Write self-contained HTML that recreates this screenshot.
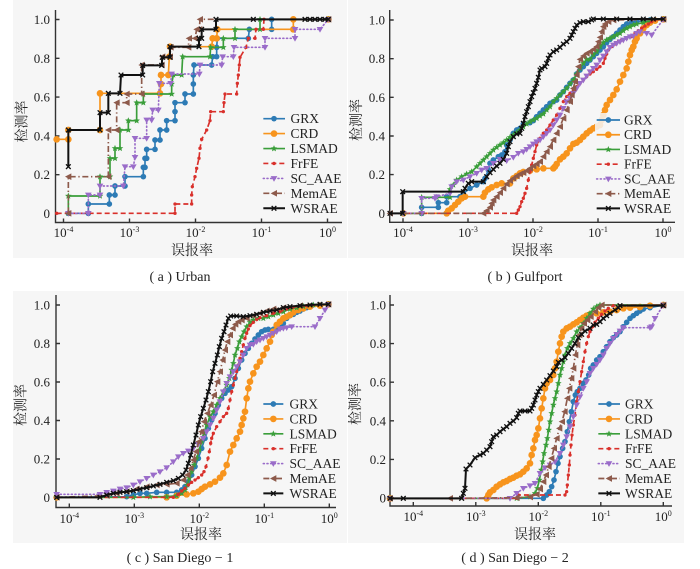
<!DOCTYPE html>
<html><head><meta charset="utf-8">
<style>
html,body{margin:0;padding:0;background:#fff;}
svg{display:block;}
text{font-family:"Liberation Serif","Noto Serif CJK SC",serif;fill:#222;}
.tk{font-size:13px;}
.lgt{font-size:13.5px;}
.cj{font-size:14px;}
.cap{font-size:14px;}
.c polyline,.lg polyline{fill:none;stroke-width:5;stroke-linejoin:round;}
.grx{stroke:#2d7bb5;}
.crd{stroke:#f7941d;}
.lsm{stroke:#3a9e3a;}
.frf{stroke:#d9302b;stroke-dasharray:15,9;}
.sca{stroke:#9a6cc9;stroke-dasharray:3,8;stroke-linecap:round;}
.mem{stroke:#8d5a4b;stroke-dasharray:18,8,4,8;}
.wsr{stroke:#111;}
.c polyline.wsr,.lg polyline.wsr{stroke-width:6;}
.c .grx{marker:url(#mB);}
.c .crd{marker:url(#mO);}
.c .lsm{marker:url(#mG);}
.c .frf{marker:url(#mR);}
.c .sca{marker:url(#mP);}
.c .mem{marker:url(#mM);}
.c .wsr{marker:url(#mK);}
.lg .grx{marker-mid:url(#mB);}
.lg .crd{marker-mid:url(#mO);}
.lg .lsm{marker-mid:url(#mG);}
.lg .frf{marker-mid:url(#mR);}
.lg .sca{marker-mid:url(#mP);}
.lg .mem{marker-mid:url(#mM);}
.lg .wsr{marker-mid:url(#mK);}
.ax{fill:none;stroke:#333;stroke-width:1.4;}
</style></head>
<body>
<svg width="700" height="569" viewBox="0 0 700 569" xmlns="http://www.w3.org/2000/svg">
<defs>
<marker id="mB" markerUnits="userSpaceOnUse" markerWidth="30" markerHeight="30" refX="15" refY="15" overflow="visible"><circle cx="15" cy="15" r="8.5" fill="#2d7bb5"/></marker>
<marker id="mO" markerUnits="userSpaceOnUse" markerWidth="30" markerHeight="30" refX="15" refY="15" overflow="visible"><circle cx="15" cy="15" r="10" fill="#f7941d"/></marker>
<marker id="mG" markerUnits="userSpaceOnUse" markerWidth="30" markerHeight="30" refX="15" refY="15" overflow="visible"><polygon points="15,4.6 17.7,11.3 24.9,11.8 19.4,16.4 21.1,23.4 15,19.6 8.9,23.4 10.6,16.4 5.1,11.8 12.3,11.3" fill="#3a9e3a"/></marker>
<marker id="mR" markerUnits="userSpaceOnUse" markerWidth="30" markerHeight="30" refX="15" refY="15" overflow="visible"><circle cx="15" cy="15" r="5" fill="#d9302b"/></marker>
<marker id="mP" markerUnits="userSpaceOnUse" markerWidth="30" markerHeight="30" refX="15" refY="15" overflow="visible"><polygon points="5,8 25,8 15,25" fill="#9a6cc9"/></marker>
<marker id="mM" markerUnits="userSpaceOnUse" markerWidth="30" markerHeight="30" refX="15" refY="15" overflow="visible"><polygon points="5,15 24,5 24,25" fill="#8d5a4b"/></marker>
<marker id="mK" markerUnits="userSpaceOnUse" markerWidth="30" markerHeight="30" refX="15" refY="15" overflow="visible"><path d="M8,8L22,22M22,8L8,22" stroke="#111" stroke-width="4" fill="none"/></marker>
</defs>
<rect width="700" height="569" fill="#fff"/>
<rect x="13" y="0" width="334" height="258" fill="#f6f6f6"/>
<rect x="348" y="0" width="336" height="258" fill="#f6f6f6"/>
<rect x="13" y="291" width="334" height="252" fill="#f6f6f6"/>
<rect x="348" y="291" width="336" height="252" fill="#f6f6f6"/>

<!-- ================= PANEL A ================= -->
<path class="ax" d="M55.5,10V222.5H342"/>
<path class="ax" d="M63.5,222.5v-4M129.5,222.5v-4M195.5,222.5v-4M261.5,222.5v-4M327.5,222.5v-4M55.5,19.5h4M55.5,58.3h4M55.5,97.1h4M55.5,135.9h4M55.5,174.7h4M55.5,213.5h4"/>
<g class="tk" text-anchor="end">
<text x="50" y="24">1.0</text><text x="50" y="62.8">0.8</text><text x="50" y="101.6">0.6</text><text x="50" y="140.4">0.4</text><text x="50" y="179.2">0.2</text><text x="50" y="218">0</text>
</g>
<g class="tk" text-anchor="middle">
<text x="63.5" y="237">10<tspan font-size="8" dy="-5">-4</tspan></text>
<text x="129.5" y="237">10<tspan font-size="8" dy="-5">-3</tspan></text>
<text x="195.5" y="237">10<tspan font-size="8" dy="-5">-2</tspan></text>
<text x="261.5" y="237">10<tspan font-size="8" dy="-5">-1</tspan></text>
<text x="327.5" y="237">10<tspan font-size="8" dy="-5">0</tspan></text>
</g>
<text class="cj" transform="translate(21.5,121.5) rotate(-90)" text-anchor="middle" y="5">检测率</text>
<text class="cj" x="192" y="255" text-anchor="middle">误报率</text>
<text class="cap" x="180" y="281" text-anchor="middle">( a ) Urban</text>

<g class="c" transform="scale(0.333333)">
<polyline class="grx" points="205,640 265,640 265,612 328,612 328,585 345,585 345,558 375,558 375,530 430,530 430,502 435,502 435,475 440,475 440,448 465,448 465,420 480,420 480,390 500,390 500,362 525,362 525,335 525,308 555,308 555,282 580,282 580,252 580,225 582,195 635,195 638,170 650,170 650,142 652,115 745,115 748,88 815,88 815,58 985,58"/>
<polyline class="crd" points="170,418 205,418 205,390 300,390 300,280 480,280 483,252 483,225 505,225 508,170 510,140 635,140 638,115 650,115 652,88 880,88 880,58 985,58"/>
<polyline class="lsm" points="205,640 205,588 300,588 300,530 330,530 330,475 345,475 345,445 360,445 360,390 385,390 385,362 410,362 410,308 430,308 430,282 515,282 515,252 520,225 545,225 548,170 630,170 632,142 670,142 670,115 705,115 705,88 780,88 780,58 985,58"/>
<polyline class="frf" points="170,640 525,640 525,612 575,612 575,585 577,560 585,530 590,505 597,475 600,445 605,418 620,390 630,362 632,335 670,335 672,308 675,282 710,282 712,250 715,225 718,195 720,172 738,142 745,115 765,115 768,88 790,88 792,58 985,58"/>
<polyline class="sca" points="205,640 265,640 265,585 300,585 300,558 370,558 375,500 400,500 405,472 405,415 440,415 440,360 455,360 458,330 475,330 478,250 512,250 515,222 598,222 600,195 665,195 668,170 700,170 702,142 795,142 795,115 885,115 885,88 960,88 985,58"/>
<polyline class="mem" points="205,640 205,530 325,530 325,390 350,390 350,308 380,308 380,282 425,282 425,195 485,195 487,170 510,170 512,142 565,142 567,115 585,115 590,88 598,88 600,58 985,58"/>
<polyline class="wsr" points="205,500 205,390 300,390 300,338 325,338 325,280 360,280 363,225 428,225 428,196 485,196 487,172 510,172 510,140 597,140 597,115 605,115 605,88 648,88 648,58 760,58 915,58 930,58 945,58 960,58 975,58 985,58"/>
</g>
<g class="lg" transform="scale(0.333333)">
<polyline class="grx" points="790,356 822,356 855,356"/>
<polyline class="crd" points="790,400.8 822,400.8 855,400.8"/>
<polyline class="lsm" points="790,445.6 822,445.6 855,445.6"/>
<polyline class="frf" points="790,490.4 822,490.4 855,490.4"/>
<polyline class="sca" points="790,535.2 822,535.2 855,535.2"/>
<polyline class="mem" points="790,580 822,580 855,580"/>
<polyline class="wsr" points="790,624.8 822,624.8 855,624.8"/>
</g>
<g class="lgt">
<text x="290.5" y="123.2">GRX</text><text x="290.5" y="138.1">CRD</text><text x="290.5" y="153">LSMAD</text><text x="290.5" y="168">FrFE</text><text x="290.5" y="182.9">SC_AAE</text><text x="290.5" y="197.8">MemAE</text><text x="290.5" y="212.8">WSRAE</text>
</g>

<!-- ================= PANEL B ================= -->
<path class="ax" d="M389.7,10V222.3H675"/>
<path class="ax" d="M403,222.3v-4M468,222.3v-4M533,222.3v-4M598,222.3v-4M663,222.3v-4M389.7,20h4M389.7,58.7h4M389.7,97.3h4M389.7,136h4M389.7,174.6h4M389.7,213.3h4"/>
<g class="tk" text-anchor="end">
<text x="385" y="24.5">1.0</text><text x="385" y="63.2">0.8</text><text x="385" y="101.8">0.6</text><text x="385" y="140.5">0.4</text><text x="385" y="179.1">0.2</text><text x="385" y="217.8">0</text>
</g>
<g class="tk" text-anchor="middle">
<text x="403" y="237">10<tspan font-size="8" dy="-5">-4</tspan></text>
<text x="468" y="237">10<tspan font-size="8" dy="-5">-3</tspan></text>
<text x="533" y="237">10<tspan font-size="8" dy="-5">-2</tspan></text>
<text x="598" y="237">10<tspan font-size="8" dy="-5">-1</tspan></text>
<text x="663" y="237">10<tspan font-size="8" dy="-5">0</tspan></text>
</g>
<text class="cj" transform="translate(356,120) rotate(-90)" text-anchor="middle" y="5">检测率</text>
<text class="cj" x="532" y="255" text-anchor="middle">误报率</text>
<text class="cap" x="525" y="281" text-anchor="middle">( b ) Gulfport</text>

<g class="c" transform="translate(350,0) scale(0.333333)">
<polyline class="grx" points="160,640 215,640 215,622 265,622 265,608 290,608 290,590 330,590 340,580 360,565 380,555 400,545 405,535 415,510 420,490 430,480 445,470 455,465 465,455 470,435 480,420 490,400 500,390 510,385 520,372 540,368 550,362 560,350 570,340 580,330 590,320 600,310 610,305 620,300 630,285 640,275 650,262 660,250 670,240 680,222 690,210 700,200 710,190 720,180 730,170 740,160 750,150 760,140 770,128 780,118 790,110 800,100 810,90 820,80 830,72 845,68 860,65 880,62 900,60 940,58"/>
<polyline class="crd" points="160,640 290,640 295,632 305,625 315,615 325,605 335,595 345,590 400,590 405,578 415,568 425,562 440,555 455,550 480,550 490,535 500,528 510,520 520,516 540,512 560,508 580,505 610,505 615,500 620,492 630,478 640,470 650,460 660,445 670,432 680,428 690,420 700,410 710,400 720,392 730,385 740,380 750,375 755,360 760,345 765,330 770,315 780,300 790,285 800,268 810,245 820,225 830,205 835,185 840,165 845,150 850,140 855,125 860,115 870,100 880,85 890,75 900,68 915,62 940,58"/>
<polyline class="lsm" points="160,640 215,640 215,592 260,592 300,592 300,568 310,555 320,540 335,530 350,522 365,515 380,500 390,490 400,480 410,470 420,460 430,450 440,442 450,435 460,428 470,420 480,412 490,405 500,398 510,390 520,380 530,372 540,365 550,360 560,355 570,348 580,342 590,330 600,320 610,305 620,295 630,285 640,275 650,265 660,252 670,240 680,222 690,205 700,190 710,178 720,178 730,165 740,155 750,140 760,128 770,120 780,115 790,110 800,105 810,100 820,92 830,85 840,80 850,75 860,72 880,68 900,62 940,58"/>
<polyline class="frf" points="120,640 500,640 505,630 510,620 515,605 520,595 525,580 530,565 535,540 540,515 545,495 550,475 555,455 560,435 570,415 580,400 590,390 600,375 610,360 620,345 630,325 640,305 650,290 660,280 670,270 680,260 690,250 700,240 710,230 720,222 730,215 740,208 750,200 760,190 765,175 770,162 775,150 785,140 795,132 805,125 815,120 830,115 845,110 855,100 865,92 875,85 885,78 895,72 905,65 915,60 940,58"/>
<polyline class="sca" points="160,640 215,640 215,595 255,595 260,590 300,580 305,560 320,545 340,540 360,530 380,520 395,510 410,505 430,490 450,478 470,482 490,472 505,460 520,455 530,448 540,440 550,432 560,425 570,420 580,410 590,400 600,390 610,375 620,360 630,345 640,325 650,305 660,295 670,280 680,265 690,250 700,240 710,228 720,215 730,205 740,195 750,180 760,168 770,155 780,142 790,135 800,130 810,125 820,120 830,115 840,110 850,108 860,100 870,95 890,100 905,105 940,58"/>
<polyline class="mem" points="120,640 400,640 410,632 420,622 425,610 430,600 440,590 450,578 460,565 470,552 480,542 490,535 500,528 510,522 520,518 530,512 540,505 550,498 560,492 570,485 580,470 590,455 600,440 610,420 620,400 630,380 640,355 650,330 660,305 665,285 670,265 675,245 680,225 685,200 690,178 700,168 710,160 720,155 730,148 740,140 745,125 750,112 755,95 760,80 765,72 775,65 790,60 940,58"/>
<polyline class="wsr" points="120,640 158,640 158,575 340,575 345,565 355,550 365,545 400,545 410,530 420,518 430,508 440,498 450,490 460,478 470,460 475,440 480,425 490,410 500,402 510,400 515,385 520,370 525,350 530,335 535,320 540,305 545,290 550,278 555,265 560,250 565,232 570,210 575,205 585,200 590,190 595,175 600,165 610,155 620,150 630,142 640,132 650,125 660,115 665,105 670,95 675,85 680,75 690,68 700,65 715,65 725,60 730,57 760,57 800,57 840,57 880,57 910,57 940,57"/>
</g>
<rect x="595" y="113" width="86" height="104" fill="#f6f6f6" opacity="0.85"/>
<g class="lg" transform="translate(350,0) scale(0.333333)">
<polyline class="grx" points="740,360 775,360 810,360"/>
<polyline class="crd" points="740,404.2 775,404.2 810,404.2"/>
<polyline class="lsm" points="740,448.4 775,448.4 810,448.4"/>
<polyline class="frf" points="740,492.6 775,492.6 810,492.6"/>
<polyline class="sca" points="740,536.8 775,536.8 810,536.8"/>
<polyline class="mem" points="740,581 775,581 810,581"/>
<polyline class="wsr" points="740,625.2 775,625.2 810,625.2"/>
</g>
<g class="lgt">
<text x="624" y="124.5">GRX</text><text x="624" y="139.2">CRD</text><text x="624" y="154">LSMAD</text><text x="624" y="168.7">FrFE</text><text x="624" y="183.4">SC_AAE</text><text x="624" y="198.2">MemAE</text><text x="624" y="212.9">WSRAE</text>
</g>

<!-- ================= PANEL C ================= -->
<path class="ax" d="M56,295V507.5H336"/>
<path class="ax" d="M69.3,507.5v-4M134.3,507.5v-4M199.3,507.5v-4M264.3,507.5v-4M329.3,507.5v-4M56,305h4M56,343.5h4M56,382h4M56,420.5h4M56,459h4M56,497.5h4"/>
<g class="tk" text-anchor="end">
<text x="50" y="309.5">1.0</text><text x="50" y="348">0.8</text><text x="50" y="386.5">0.6</text><text x="50" y="425">0.4</text><text x="50" y="463.5">0.2</text><text x="50" y="502">0</text>
</g>
<g class="tk" text-anchor="middle">
<text x="69.3" y="523">10<tspan font-size="8" dy="-5">-4</tspan></text>
<text x="134.3" y="523">10<tspan font-size="8" dy="-5">-3</tspan></text>
<text x="199.3" y="523">10<tspan font-size="8" dy="-5">-2</tspan></text>
<text x="264.3" y="523">10<tspan font-size="8" dy="-5">-1</tspan></text>
<text x="329.3" y="523">10<tspan font-size="8" dy="-5">0</tspan></text>
</g>
<text class="cj" transform="translate(20.5,405) rotate(-90)" text-anchor="middle" y="5">检测率</text>
<text class="cj" x="201" y="539" text-anchor="middle">误报率</text>
<text class="cap" x="180" y="562" text-anchor="middle">( c ) San Diego − 1</text>

<g class="c" transform="translate(0,285) scale(0.333333)">
<polyline class="grx" points="170,637 380,635 400,630 420,625 440,625 470,622 500,622 530,622 545,615 555,605 565,590 575,570 585,545 595,520 605,490 615,460 625,430 635,405 645,385 655,360 665,340 675,325 685,315 695,305 705,280 715,250 725,225 735,205 745,190 755,175 765,162 775,150 785,140 795,135 805,133 820,133 830,130 840,128 850,115 860,100 870,92 880,88 890,82 900,78 910,72 920,68 935,62 960,60 985,58"/>
<polyline class="crd" points="170,637 500,637 530,632 560,628 580,625 595,620 605,612 615,605 630,598 645,590 660,578 670,565 680,540 690,500 700,480 710,460 720,440 725,420 730,400 735,380 740,340 745,310 750,290 760,265 770,245 780,230 790,210 800,190 810,170 815,150 820,140 830,120 840,110 850,100 860,95 870,90 880,82 895,75 910,70 930,65 960,62 985,58"/>
<polyline class="lsm" points="170,637 400,637 450,635 500,635 530,632 545,625 555,615 562,600 568,580 575,560 582,540 590,520 598,495 605,470 612,445 620,420 630,395 640,380 650,360 660,340 670,320 680,300 688,280 695,255 700,235 705,210 712,190 718,170 725,155 732,140 740,125 750,112 760,105 775,100 790,100 805,95 820,90 835,85 850,80 870,72 890,68 910,64 940,60 985,58"/>
<polyline class="frf" points="170,637 520,637 535,628 545,618 555,610 565,600 575,592 585,585 595,578 605,570 612,560 618,545 624,520 628,500 632,475 635,460 640,445 650,425 660,410 670,395 680,385 685,370 690,345 695,320 700,300 705,280 710,260 715,240 720,220 725,200 730,180 735,160 740,145 745,132 750,122 760,112 770,104 780,98 800,92 820,85 840,80 860,72 880,66 920,62 985,58"/>
<polyline class="sca" points="170,628 300,628 320,622 340,618 360,612 380,608 400,600 420,590 440,580 460,570 480,560 500,548 520,530 535,515 550,505 565,498 580,490 595,478 610,460 620,440 630,420 640,400 650,375 660,350 670,320 680,295 690,275 700,260 710,245 720,230 730,210 740,190 750,180 760,178 770,170 780,165 790,160 800,155 810,150 820,145 830,140 840,132 850,130 860,128 875,125 945,125 960,100 975,75 985,58"/>
<polyline class="mem" points="170,637 320,632 350,625 380,620 410,612 440,605 470,600 500,598 530,595 550,585 562,570 572,550 580,525 588,500 596,470 604,440 612,410 622,385 632,360 642,330 652,290 660,260 668,225 675,195 682,170 690,150 698,130 706,118 715,110 725,105 740,100 760,92 780,85 800,78 820,72 850,68 900,62 985,58"/>
<polyline class="wsr" points="170,637 300,637 320,630 340,625 360,622 380,620 400,617 420,612 440,608 460,603 480,598 500,592 520,587 535,580 548,570 558,555 565,535 572,510 580,480 588,450 595,420 602,395 610,370 618,345 625,320 632,290 638,260 645,235 652,210 658,185 665,160 672,140 678,120 685,100 692,93 710,93 730,95 750,92 770,88 790,82 810,78 830,75 850,68 870,65 900,62 930,60 960,58 985,58"/>
</g>
<g class="lg" transform="translate(0,285) scale(0.333333)">
<polyline class="grx" points="790,357 820,357 850,357"/>
<polyline class="crd" points="790,401.7 820,401.7 850,401.7"/>
<polyline class="lsm" points="790,446.4 820,446.4 850,446.4"/>
<polyline class="frf" points="790,491.1 820,491.1 850,491.1"/>
<polyline class="sca" points="790,535.8 820,535.8 850,535.8"/>
<polyline class="mem" points="790,580.5 820,580.5 850,580.5"/>
<polyline class="wsr" points="790,625.2 820,625.2 850,625.2"/>
</g>
<g class="lgt">
<text x="289.5" y="408.5">GRX</text><text x="289.5" y="423.4">CRD</text><text x="289.5" y="438.3">LSMAD</text><text x="289.5" y="453.2">FrFE</text><text x="289.5" y="468.1">SC_AAE</text><text x="289.5" y="483">MemAE</text><text x="289.5" y="497.9">WSRAE</text>
</g>

<!-- ================= PANEL D ================= -->
<path class="ax" d="M390,295V506H672"/>
<path class="ax" d="M413.3,506v-4M475.8,506v-4M538.3,506v-4M600.8,506v-4M663.3,506v-4M390,305h4M390,343.6h4M390,382.2h4M390,420.8h4M390,459.4h4M390,498h4"/>
<g class="tk" text-anchor="end">
<text x="386" y="309.5">1.0</text><text x="386" y="348.1">0.8</text><text x="386" y="386.7">0.6</text><text x="386" y="425.3">0.4</text><text x="386" y="463.9">0.2</text><text x="386" y="502.5">0</text>
</g>
<g class="tk" text-anchor="middle">
<text x="413.3" y="521">10<tspan font-size="8" dy="-5">-4</tspan></text>
<text x="475.8" y="521">10<tspan font-size="8" dy="-5">-3</tspan></text>
<text x="538.3" y="521">10<tspan font-size="8" dy="-5">-2</tspan></text>
<text x="600.8" y="521">10<tspan font-size="8" dy="-5">-1</tspan></text>
<text x="663.3" y="521">10<tspan font-size="8" dy="-5">0</tspan></text>
</g>
<text class="cj" transform="translate(355,404) rotate(-90)" text-anchor="middle" y="5">检测率</text>
<text class="cj" x="535" y="539" text-anchor="middle">误报率</text>
<text class="cap" x="515" y="562" text-anchor="middle">( d ) San Diego − 2</text>

<g class="c" transform="translate(350,285) scale(0.333333)">
<polyline class="grx" points="120,640 580,640 590,630 598,620 605,605 612,585 618,560 624,535 630,515 638,490 645,470 652,440 658,410 664,380 670,350 676,330 682,320 690,310 700,295 708,285 716,270 722,250 730,240 740,225 750,215 760,200 770,185 780,170 790,158 800,150 810,140 820,125 830,112 840,100 850,92 860,85 870,78 880,72 900,68 940,60"/>
<polyline class="crd" points="120,640 410,640 415,630 420,622 430,615 440,605 450,598 460,592 470,588 480,582 490,578 500,572 510,568 520,560 530,550 540,535 545,510 550,490 555,465 560,450 565,430 570,400 575,370 580,340 585,310 590,295 600,285 610,270 615,250 620,230 625,200 630,175 635,155 640,140 650,130 660,125 670,118 680,112 690,105 700,98 710,92 720,88 740,85 760,82 780,80 800,75 820,70 840,68 870,66 900,62 940,60"/>
<polyline class="lsm" points="120,640 500,640 540,635 555,625 562,610 568,585 574,555 578,530 582,505 588,480 592,460 596,435 600,410 605,385 610,360 615,340 620,320 625,295 630,270 635,250 640,230 645,210 652,190 660,175 670,160 680,140 690,128 700,115 710,100 720,85 730,72 740,65 750,60 940,60"/>
<polyline class="frf" points="120,640 500,640 505,630 645,630 650,620 652,600 655,570 658,540 660,510 663,480 666,450 670,420 675,390 680,350 685,320 690,290 695,260 700,230 705,200 710,175 715,155 720,140 728,125 735,112 745,100 755,88 765,78 775,70 790,62 940,60"/>
<polyline class="sca" points="120,640 480,640 500,625 520,610 540,602 555,595 570,565 585,548 600,540 615,530 630,505 640,480 650,455 660,425 670,395 680,360 690,335 700,310 710,290 720,265 730,250 740,238 750,225 760,210 770,190 780,175 790,160 800,148 810,138 820,128 900,128 905,125 915,100 940,60"/>
<polyline class="mem" points="120,640 300,640 500,638 540,636 560,628 570,612 580,590 588,570 596,545 604,520 612,490 620,460 628,430 636,410 644,380 652,340 658,310 664,280 670,250 676,210 682,180 688,150 694,130 702,115 712,105 722,95 735,80 745,68 755,60 940,60"/>
<polyline class="wsr" points="120,640 160,640 335,640 340,625 345,610 348,552 360,540 375,518 390,510 400,505 410,495 420,485 425,470 430,455 440,450 450,440 460,432 470,425 480,415 490,408 500,398 505,385 510,378 525,378 540,378 545,370 550,360 555,345 560,330 565,320 570,310 580,298 590,285 600,272 610,258 620,245 625,232 635,225 645,218 655,205 665,190 675,175 685,158 695,148 705,138 720,130 730,120 740,118 750,110 760,100 770,92 780,85 795,75 805,68 810,62 940,62"/>
</g>
<g class="lg" transform="translate(350,285) scale(0.333333)">
<polyline class="grx" points="745,357 777,357 810,357"/>
<polyline class="crd" points="745,401.7 777,401.7 810,401.7"/>
<polyline class="lsm" points="745,446.4 777,446.4 810,446.4"/>
<polyline class="frf" points="745,491.1 777,491.1 810,491.1"/>
<polyline class="sca" points="745,535.8 777,535.8 810,535.8"/>
<polyline class="mem" points="745,580.5 777,580.5 810,580.5"/>
<polyline class="wsr" points="745,625.2 777,625.2 810,625.2"/>
</g>
<g class="lgt">
<text x="625" y="408.5">GRX</text><text x="625" y="423.4">CRD</text><text x="625" y="438.3">LSMAD</text><text x="625" y="453.2">FrFE</text><text x="625" y="468.1">SC_AAE</text><text x="625" y="483">MemAE</text><text x="625" y="497.9">WSRAE</text>
</g>
</svg>
</body></html>
